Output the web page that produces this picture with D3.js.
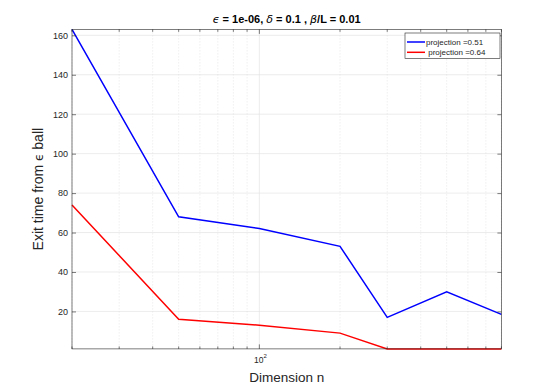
<!DOCTYPE html>
<html><head><meta charset="utf-8">
<script src="https://cdn.jsdelivr.net/npm/d3@7"></script>
<style>body{margin:0;background:#fff}svg{display:block}text{font-family:"Liberation Sans",Arial,sans-serif;white-space:pre}.gk{font-family:"DejaVu Sans","Noto Sans",sans-serif}</style>
</head><body>
<svg id="c" width="554" height="392"></svg>
<script>
const dims = [20, 50, 100, 200, 300, 500, 800];
const blueVals = [163, 68, 62, 53, 17, 30, 18.5];
const redVals = [74, 16, 13, 9, 1, 1, 1];
const seriesNames = ["projection =0.51", " projection =0.64"];
const seriesColors = ["#0000ff", "#ff0000"];
const yTicks = [20, 40, 60, 80, 100, 120, 140, 160];
const xMajor = [100];
const xMinor = [20,30,40,50,60,70,80,90,200,300,400,500,600,700,800];

const svg = d3.select("#c");
const L = 72, R = 501.4, T = 29.4, B = 348.9;
const x = d3.scaleLog().domain([20, 800]).range([L, R]);
const y = d3.scaleLinear().domain([1, 163]).range([B, T]);
const axc = "#262626";

svg.append("rect").attr("x", L).attr("y", T).attr("width", R-L).attr("height", B-T).attr("fill", "#fff");

// grid
const g = svg.append("g");
g.selectAll(".ym").data(yTicks).join("line")
  .attr("x1", L).attr("x2", R).attr("y1", d => y(d)).attr("y2", d => y(d))
  .attr("stroke", "#dfdfdf").attr("stroke-width", 0.6);
g.selectAll(".xn").data(xMinor).join("line")
  .attr("x1", d => x(d)).attr("x2", d => x(d)).attr("y1", T).attr("y2", B)
  .attr("stroke", "#d8d8d8").attr("stroke-width", 0.6).attr("stroke-dasharray", "1,2");
g.selectAll(".xm").data(xMajor).join("line")
  .attr("x1", d => x(d)).attr("x2", d => x(d)).attr("y1", T).attr("y2", B)
  .attr("stroke", "#dfdfdf").attr("stroke-width", 0.6);

// data lines
const line = d3.line().x((d, i) => x(dims[i])).y(d => y(d));
[blueVals, redVals].forEach((vals, k) => {
  svg.append("path").datum(vals).attr("d", line)
    .attr("fill", "none").attr("stroke", seriesColors[k]).attr("stroke-width", 1.5);
});

// box
svg.append("rect").attr("x", L).attr("y", T).attr("width", R-L).attr("height", B-T)
  .attr("fill", "none").attr("stroke", axc).attr("stroke-width", 0.6);

const yAx = d3.axisLeft(y).tickValues(yTicks).tickSize(-4).tickPadding(4).tickFormat(d3.format("d"));
const ga = svg.append("g").attr("transform", `translate(${L},0)`).call(yAx);
ga.select(".domain").remove();
ga.selectAll("line").attr("stroke", axc).attr("stroke-width", 0.6);
ga.selectAll("text").attr("fill", axc).attr("font-size", 9).attr("font-family", "Liberation Sans, Arial, sans-serif");
const yAxR = d3.axisRight(y).tickValues(yTicks).tickSize(-4).tickFormat("");
const gr = svg.append("g").attr("transform", `translate(${R},0)`).call(yAxR);
gr.select(".domain").remove();
gr.selectAll("line").attr("stroke", axc).attr("stroke-width", 0.6);

function xticks(pos, sign) {
  const gx = svg.append("g");
  gx.selectAll(".mn").data(xMinor).join("line")
    .attr("x1", d => x(d)).attr("x2", d => x(d)).attr("y1", pos).attr("y2", pos + sign*2.5)
    .attr("stroke", axc).attr("stroke-width", 0.6);
  gx.selectAll(".mj").data(xMajor).join("line")
    .attr("x1", d => x(d)).attr("x2", d => x(d)).attr("y1", pos).attr("y2", pos + sign*4.5)
    .attr("stroke", axc).attr("stroke-width", 0.6);
}
xticks(B, -1); xticks(T, 1);

xMajor.forEach(v => {
  const t = svg.append("text").attr("x", x(v) + 1).attr("y", 362.5).attr("text-anchor", "middle")
    .attr("fill", axc).attr("font-size", 8.5);
  t.append("tspan").text("10");
  t.append("tspan").attr("dy", -4.5).attr("font-size", 6).text(Math.round(Math.log10(v)));
});

svg.append("text").attr("x", (L+R)/2).attr("y", 381.5).attr("text-anchor", "middle")
  .attr("fill", axc).attr("font-size", 13.5).text("Dimension n");
const yl = svg.append("text").attr("transform", `translate(43,${(T+B)/2}) rotate(-90)`)
  .attr("text-anchor", "middle").attr("fill", axc).attr("font-size", 14);
yl.append("tspan").text("Exit time from ");
yl.append("tspan").attr("class", "gk").attr("font-size", 12).text("ϵ");
yl.append("tspan").text(" ball");

const title = svg.append("text").attr("x", (L+R)/2).attr("y", 23).attr("text-anchor", "middle")
  .attr("font-size", 11).attr("font-weight", "bold").attr("fill", "#000");
title.append("tspan").attr("class", "gk").attr("font-style", "italic").attr("font-weight", "normal").text("ϵ");
title.append("tspan").text(" = 1e-06, ");
title.append("tspan").attr("class", "gk").attr("font-style", "italic").attr("font-weight", "normal").text("δ");
title.append("tspan").text(" = 0.1 , ");
title.append("tspan").attr("class", "gk").attr("font-style", "italic").attr("font-weight", "normal").text("β");
title.append("tspan").text("/L = 0.01");

// legend
const lg = svg.append("g");
lg.append("rect").attr("x", 405).attr("y", 33).attr("width", 95).attr("height", 25.5)
  .attr("fill", "#fff").attr("stroke", axc).attr("stroke-width", 0.6);
seriesNames.forEach((n, i) => {
  const yy = 42 + i*10.3;
  lg.append("line").attr("x1", 407).attr("x2", 425).attr("y1", yy).attr("y2", yy)
    .attr("stroke", seriesColors[i]).attr("stroke-width", 1.5);
  lg.append("text").attr("x", 426).attr("y", yy + 3).attr("font-size", 8)
    .attr("fill", axc).text(n);
});
</script>
</body></html>
